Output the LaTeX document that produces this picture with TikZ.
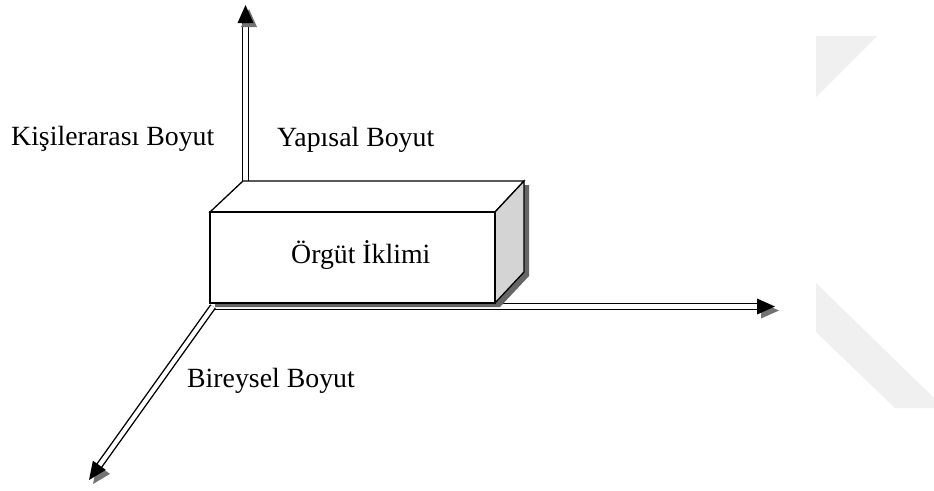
\documentclass[tikz,border=0pt]{standalone}
\usepackage{fontspec}
\setmainfont{Liberation Serif}
\begin{document}
\begin{tikzpicture}[x=1pt,y=-1pt,
  axisline/.style={draw=black,line width=1.4pt,double=white,double distance=4.2pt},
  tipshade/.style={fill=black!55},
  tipfill/.style={fill=black},
  lbl/.style={inner sep=0pt,anchor=base west,font=\fontsize{27.8}{30}\selectfont},
  faceline/.style={draw=black,line width=1.3pt,line join=miter},
  emblem/.style={fill=black!6}]
  % canvas
  \path[fill=white] (0,0) rectangle (934,490);
  \useasboundingbox (0,0) rectangle (934,490);

  % faint emblem at the right
  \fill[emblem] (816,36) -- (877,36) -- (816,97) -- cycle;
  \fill[emblem] (816,283) -- (934,398) -- (934,408) -- (895,408) -- (816,332) -- cycle;

  % axis end points
  \coordinate (O) at (213,306.5);
  \coordinate (vbase) at (245.5,183);
  \coordinate (vend) at (245.5,22);
  \coordinate (hend) at (758,306.5);
  \coordinate (dend) at (99,466);

  % the three axes
  \draw[axisline] (vbase) -- (vend);
  \draw[axisline] (O) -- (hend);
  \draw[axisline] (O) -- (dend);

  % arrow heads with their shadows
  \fill[tipshade] (249,9) -- (241,27) -- (257,27) -- cycle;
  \fill[tipfill] (245.5,5) -- (237.5,23) -- (253.5,23) -- cycle;
  \fill[tipshade] (779,310.5) -- (761,302.5) -- (761,318.5) -- cycle;
  \fill[tipfill] (775,306.5) -- (757,298.5) -- (757,314.5) -- cycle;
  \fill[tipshade] (93,484) -- (97,464.7) -- (110,473.9) -- cycle;
  \fill[tipfill] (89,480) -- (92.9,460.7) -- (105.9,469.9) -- cycle;

  % box: shadow, then faces
  \fill[black!60] (215,216) -- (248,185) -- (529,185) -- (529,276) -- (500,307) -- (215,307) -- cycle;
  \path[faceline,fill=white] (210,212) -- (243,181) -- (524,181) -- (495,212) -- cycle;
  \path[faceline,fill=black!17] (495,212) -- (524,181) -- (524,272) -- (495,303) -- cycle;
  \path[faceline,fill=white] (210,212) rectangle (495,303);

  % labels
  \node[lbl] (box)   at (291,263) {Örgüt İklimi};
  \node[lbl] (inter) at (11,145) {Kişilerarası Boyut};
  \node[lbl] (struc) at (277,146) {Yapısal Boyut};
  \node[lbl] (indiv) at (187,387) {Bireysel Boyut};
\end{tikzpicture}
\end{document}
